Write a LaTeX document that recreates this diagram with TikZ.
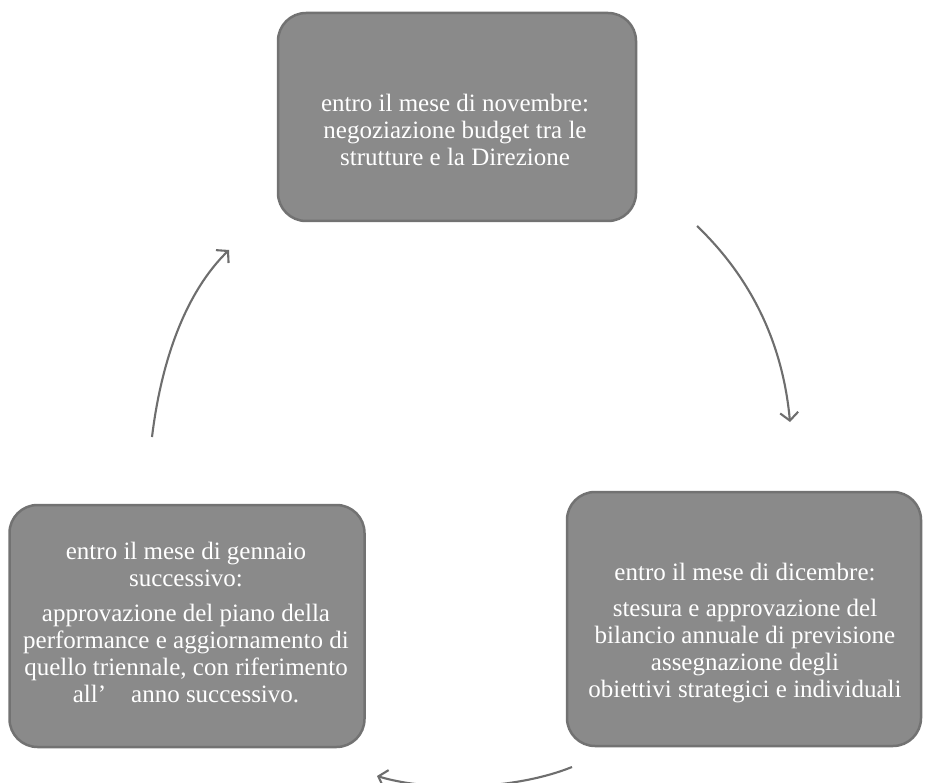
\documentclass[tikz,border=0pt]{standalone}
\usepackage{fontspec}
\setmainfont{Liberation Serif}
\usetikzlibrary{arrows.meta}
\definecolor{boxfill}{HTML}{8A8A8A}
\definecolor{boxedge}{HTML}{727272}
\definecolor{arrowcol}{HTML}{6E6E6E}
\tikzset{
  phase/.style={draw=boxedge, line width=2.5pt, fill=boxfill, rounded corners=28pt, inner sep=0pt},
  phasetext/.style={text=white, align=center, font=\fontsize{25}{27}\selectfont, inner sep=0pt},
  flow/.style={draw=arrowcol, line width=2.1pt, -{Straight Barb[length=8pt,width=18pt,line width=2.1pt]}}
}
\begin{document}
\begin{tikzpicture}[x=1pt,y=-1pt]
\useasboundingbox (0,0) rectangle (925,783);
\fill[white] (0,0) rectangle (925,783);
% boxes
\node[phase, minimum width=358pt, minimum height=208pt] (nov) at (457,117) {};
\node[phase, minimum width=355pt, minimum height=242pt] (gen) at (187,626) {};
\node[phase, minimum width=354pt, minimum height=254pt] (dic) at (744,619) {};
% texts
\node[phasetext] (novt) at (455,130) {entro il mese di novembre:\\negoziazione budget tra le\\strutture e la Direzione};
\node[phasetext] (gent) at (186,622) {entro il mese di gennaio\\successivo:\\[8pt]approvazione del piano della\\performance e aggiornamento di\\quello triennale, con riferimento\\all'\quad anno successivo.};
\node[phasetext] (dict) at (745,633) {entro il mese di dicembre:\\[9pt]stesura e approvazione del\\bilancio annuale di previsione\\assegnazione degli\\obiettivi strategici e individuali};
% connector end points
\coordinate (a1s) at (152,437);
\coordinate (a1e) at (229,250);
\coordinate (a2s) at (697,226);
\coordinate (a2e) at (790,422);
\coordinate (a3s) at (572,767);
\coordinate (a3e) at (377,776);
\draw[flow] (a1s) .. controls (162,355) and (188,290) .. (a1e);
\draw[flow] (a2s) .. controls (745,272) and (782,335) .. (a2e);
\draw[flow] (a3s) .. controls (515,790) and (430,792) .. (a3e);
\end{tikzpicture}
\end{document}
